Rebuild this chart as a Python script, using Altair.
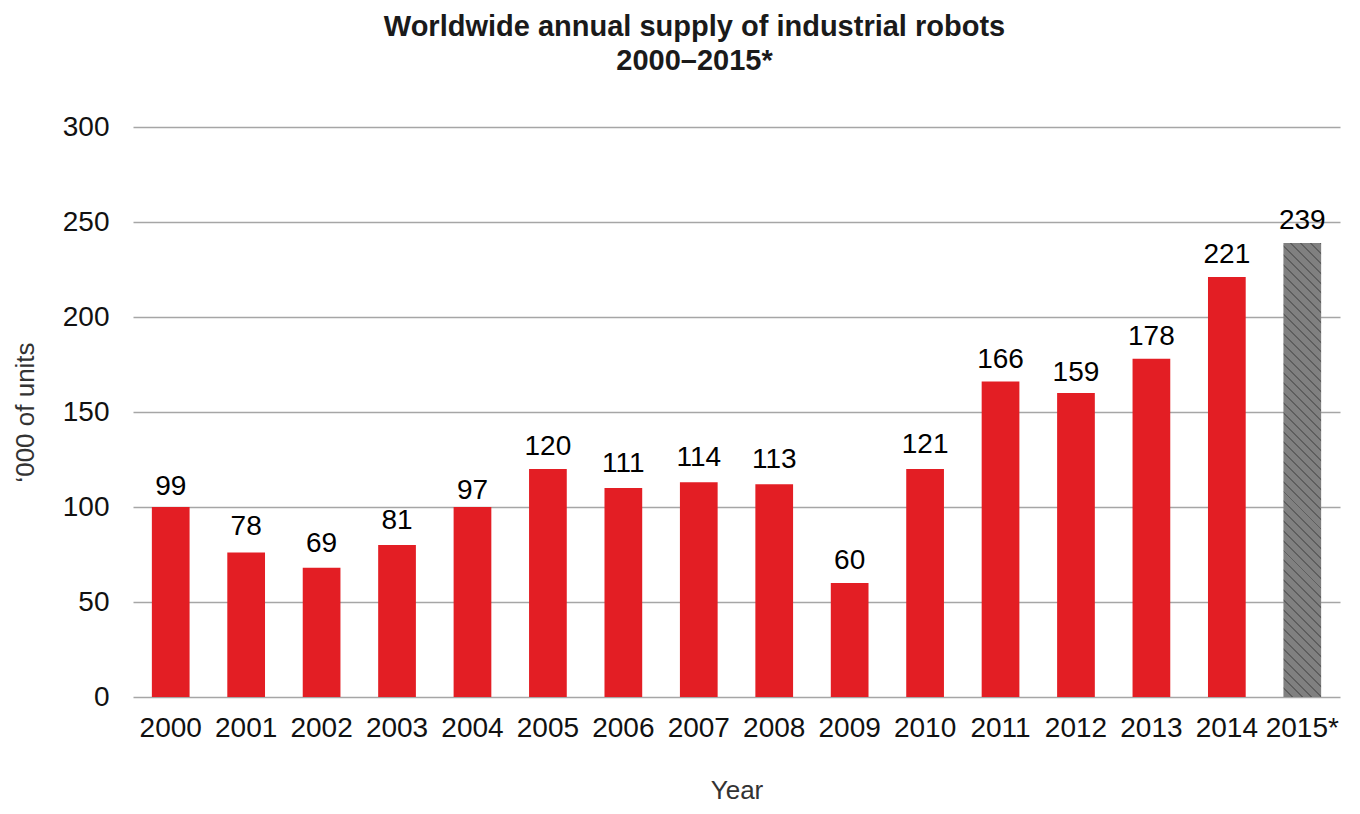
import altair as alt
import pandas as pd

years = ["2000", "2001", "2002", "2003", "2004", "2005", "2006", "2007",
         "2008", "2009", "2010", "2011", "2012", "2013", "2014", "2015*"]
bar_values = [100, 76, 68, 80, 100, 120, 110, 113, 112, 60, 120, 166, 160, 178, 221, 239]
label_values = [99, 78, 69, 81, 97, 120, 111, 114, 113, 60, 121, 166, 159, 178, 221, 239]
estimate = [False] * 15 + [True]

df = pd.DataFrame({"year": years, "bar": bar_values, "label": label_values, "est": estimate})

W, H = 1207, 570
YMAX = 300

# diagonal dotted hatch for the estimated bar, built as a striped linear gradient
bar_w = W / len(years) * 0.5
bar_h = max(bar_values) / YMAX * H
r = bar_h / bar_w
s = (1 + r) / (1 + r * r)
N = 50
base, line = "#808080", "#5e5e5e"
stops = []
for i in range(N):
    a = i / N
    b = (i + 0.8) / N
    c = (i + 1) / N
    stops += [alt.GradientStop(offset=a, color=base),
              alt.GradientStop(offset=b, color=base),
              alt.GradientStop(offset=b, color=line),
              alt.GradientStop(offset=min(c, 1.0), color=line)]
hatch = alt.LinearGradient(gradient="linear", stops=stops, x1=0, y1=1, x2=s, y2=1 - r * s)

x_enc = alt.X("year:N", sort=years, title="Year",
              scale=alt.Scale(paddingInner=0.5, paddingOuter=0.25),
              axis=alt.Axis(labelAngle=0, labelFontSize=28, labelColor="#111111",
                            labelPadding=17, ticks=False, domain=False,
                            titleFontSize=26, titleFontWeight="normal", titleColor="#333333",
                            titlePadding=35, labelFont="Liberation Sans", titleFont="Liberation Sans"))
y_scale = alt.Scale(domain=[0, YMAX])

bars = alt.Chart(df).transform_filter("!datum.est").mark_bar(color="#e31e24").encode(
    x=x_enc,
    y=alt.Y("bar:Q", scale=y_scale, title="\u2018000 of units",
            axis=alt.Axis(values=[0, 50, 100, 150, 200, 250, 300], labelFontSize=28,
                          labelColor="#111111", labelPadding=24, ticks=False, domain=False,
                          gridColor="#a6a6a6", gridWidth=1.4,
                          titleFontSize=26, titleFontWeight="normal", titleColor="#333333",
                          titlePadding=24, labelFont="Liberation Sans", titleFont="Liberation Sans")),
)

est_bar = alt.Chart(df).transform_filter("datum.est").mark_bar(color=hatch).encode(
    x=alt.X("year:N", sort=years),
    y=alt.Y("bar:Q", scale=y_scale),
)

labels = alt.Chart(df).mark_text(fontSize=28, color="#000000", baseline="alphabetic",
                                 dy=-14, font="Liberation Sans").encode(
    x=alt.X("year:N", sort=years),
    y=alt.Y("label:Q", scale=y_scale),
    text=alt.Text("label:Q"),
)

chart = alt.layer(bars, est_bar, labels).properties(
    width=W, height=H,
    title=alt.TitleParams(text=["Worldwide annual supply of industrial robots", "2000\u20132015*"],
                          fontSize=29, fontWeight="bold", font="Liberation Sans",
                          color="#1a1a1a", anchor="middle", dx=-42, offset=37, lineHeight=34),
    padding={"left": 125, "top": 119, "right": 12, "bottom": 109},
    autosize=alt.AutoSizeParams(type="none"),
).configure_view(stroke=None)

chart.save("out.html", embed_options={"renderer": "svg", "actions": False})
